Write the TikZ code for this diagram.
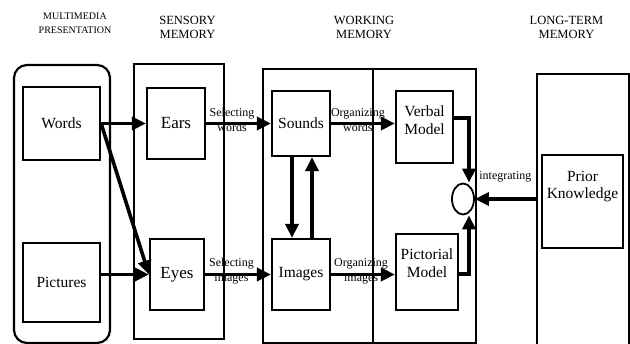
\documentclass[tikz,border=0pt]{standalone}
\usepackage{fontspec}
\setmainfont{Liberation Serif}
\usetikzlibrary{arrows.meta,shapes.geometric}

\begin{document}
\begin{tikzpicture}[x=1pt, y=-1pt,
    box/.style={rectangle, draw=black, line width=2.2pt, inner sep=0pt},
    boxtext/.style={align=center, inner sep=0pt, font=\fontsize{15.5}{17.5}\selectfont},
    bigtext/.style={font=\fontsize{17}{20}\selectfont},
    header/.style={align=center, inner sep=0pt, font=\fontsize{12.5}{14}\selectfont},
    flowlabel/.style={align=center, inner sep=0pt, font=\fontsize{12}{15}\selectfont},
    flow/.style={line width=3.6pt, -{Triangle[length=14pt, width=13pt]}}
]
    \useasboundingbox (0,0) rectangle (630,344);
    \clip (0,0) rectangle (630,344);

    \node[header, font=\fontsize{10}{13.5}\selectfont] (mmhead) at (75,23.5) {MULTIMEDIA\\PRESENTATION};
    \node[header] (smhead) at (187.5,27) {SENSORY\\MEMORY};
    \node[header] (wmhead) at (364,27) {WORKING\\MEMORY};
    \node[header] (ltmhead) at (566.5,27) {LONG-TERM\\MEMORY};

    \node[box, rounded corners=13pt, minimum width=96pt, minimum height=278pt] (mm) at (62,204) {};
    \node[box, minimum width=90pt, minimum height=275pt] (sm) at (179,201.5) {};
    \node[box, minimum width=213pt, minimum height=274pt] (wm) at (369.5,206) {};
    \node[box, minimum width=92pt, minimum height=286pt] (ltm) at (583,217) {};
    \coordinate (wmsplit) at (373,69);
    \draw[line width=1.3pt] (wmsplit) -- (wmsplit |- wm.south);

    \node[box, boxtext, minimum width=77pt, minimum height=73pt] (words) at (61.5,123.5) {Words};
    \node[box, boxtext, minimum width=77pt, minimum height=79pt] (pictures) at (61.5,282.5) {Pictures};
    \node[box, boxtext, bigtext, minimum width=58pt, minimum height=71pt] (ears) at (176,123.5) {Ears};
    \node[box, boxtext, bigtext, minimum width=54pt, minimum height=71pt] (eyes) at (177,274.5) {Eyes};
    \node[box, boxtext, minimum width=58pt, minimum height=65pt] (sounds) at (301,123.5) {Sounds};
    \node[box, boxtext, minimum width=58pt, minimum height=71pt] (images) at (301,274.5) {Images};
    \node[box, minimum width=57pt, minimum height=72pt] (verbal) at (424.5,127) {};
    \node[boxtext] (verbaltext) at ([yshift=7pt]verbal.center) {Verbal\\Model};
    \node[box, minimum width=62pt, minimum height=76pt] (pictorial) at (427,272) {};
    \node[boxtext] (pictorialtext) at ([yshift=9pt]pictorial.center) {Pictorial\\Model};
    \node[box, minimum width=81pt, minimum height=93pt] (prior) at (582.5,201.5) {};
    \node[boxtext] (priortext) at ([yshift=15pt]prior.center) {Prior\\Knowledge};
    \node[ellipse, draw=black, line width=1.8pt, inner sep=0pt,
        minimum width=22pt, minimum height=31pt] (integ) at (463,199) {};

    \draw[flow] (words.east) -- (ears.west);
    \draw[flow] (words.east) -- (eyes.west);
    \draw[flow] (pictures.east |- eyes.west) -- (eyes.west);
    \draw[flow] (ears.east) -- node[flowlabel, pos=0.4, yshift=3.5pt] {Selecting\\words} (sounds.west);
    \draw[flow] (eyes.east) -- node[flowlabel, pos=0.4, yshift=3.5pt] {Selecting\\images} (images.west);
    \draw[flow] ([xshift=-9pt]sounds.south) -- ([xshift=-9pt]images.north);
    \draw[flow] ([xshift=11pt]images.north) -- ([xshift=11pt]sounds.south);
    \draw[flow] (sounds.east) -- node[flowlabel, pos=0.42, yshift=3.5pt] {Organizing\\words} (sounds.east -| verbal.west);
    \draw[flow] (images.east) -- node[flowlabel, pos=0.47, yshift=3.5pt] {Organizing\\images} (images.east -| pictorial.west);
    \coordinate (vturn) at (469,118);
    \coordinate (pturn) at (469,274);
    \draw[flow] (vturn -| verbal.east) -- (vturn) -- (vturn |- integ.north);
    \draw[flow] (pturn -| pictorial.east) -- (pturn) -- (pturn |- integ.south);
    \draw[flow] (ltm.west |- integ.east) -- node[flowlabel, midway, yshift=22pt] {integrating} (integ.east);
\end{tikzpicture}
\end{document}
